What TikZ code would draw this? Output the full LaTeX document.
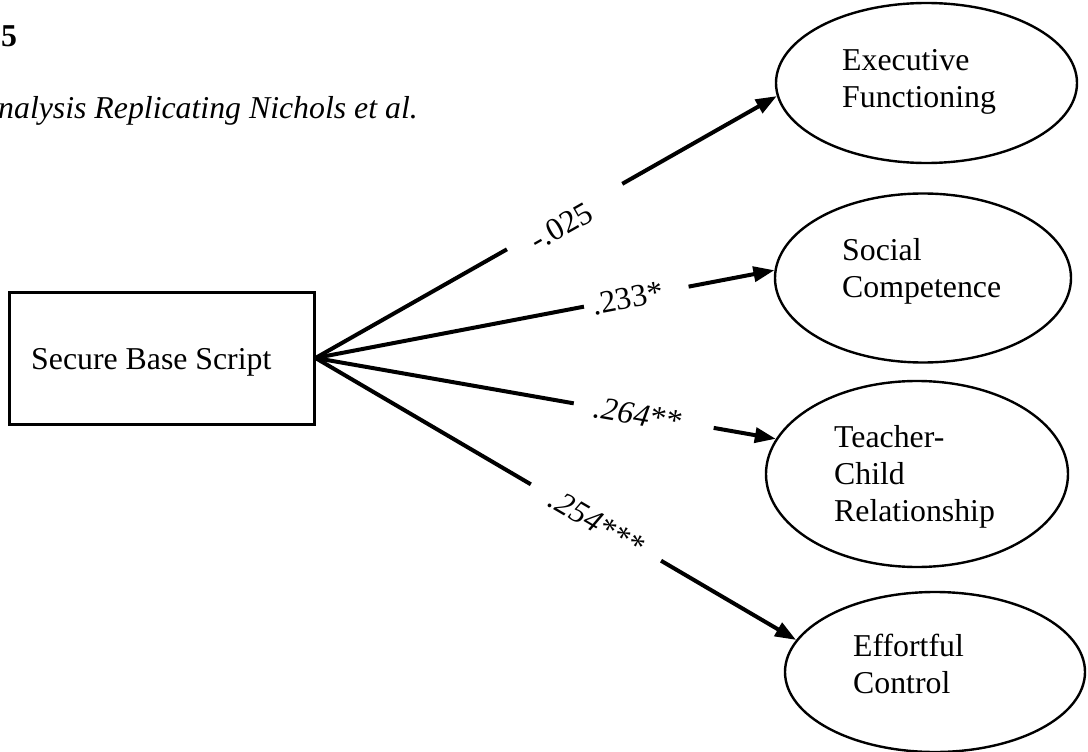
\documentclass[tikz,border=0pt]{standalone}
\usepackage{fontspec}
\setmainfont{Liberation Serif}
\usetikzlibrary{arrows.meta,shapes.geometric,calc}
\begin{document}
\begin{tikzpicture}[x=1pt,y=-1pt,
  every node/.style={font=\fontsize{31.8}{36.6}\selectfont, inner sep=0pt},
  latent/.style={draw, ellipse, line width=2.4pt, inner sep=0pt},
  observed/.style={draw, rectangle, line width=3pt, inner sep=0pt},
  label/.style={align=left, anchor=base west},
  seg/.style={line width=4pt, black},
  arr/.style={seg, -{Triangle[length=21pt,width=15pt]}},
  coef/.style={sloped, inner sep=1pt}
]
\useasboundingbox (0,0) rectangle (1088,752);
\clip (0,0) rectangle (1088,752);

% titles
\node[anchor=base west, font=\bfseries\fontsize{31.8}{36.6}\selectfont] (fignum) at (1,47) {5};
\node[anchor=base west, font=\itshape\fontsize{31.8}{36.6}\selectfont] (subtitle) at (-2,118) {nalysis Replicating Nichols et al.};

% box
\node[observed, minimum width=305pt, minimum height=132pt] (sbs) at (161.5,358) {};
\node[anchor=base west] (sbstext) at (31,369) {Secure Base Script};

% ellipses
\node[latent, minimum width=301pt, minimum height=160pt] (ef) at (926.5,83) {};
\node[latent, minimum width=296pt, minimum height=169pt] (sc) at (923,278) {};
\node[latent, minimum width=302pt, minimum height=186pt] (tc) at (917,474) {};
\node[latent, minimum width=300pt, minimum height=160pt] (ec) at (935,672) {};

% base anchor = baseline of the last line
\node[label] (eftext) at (842,107) {Executive\\Functioning};
\node[label] (sctext) at (842,297) {Social\\Competence};
\node[label] (tctext) at (834,521) {Teacher-\\Child\\Relationship};
\node[label] (ectext) at (853,693) {Effortful\\Control};

% connectors
\coordinate (src) at (sbs.east);
\coordinate (efin) at (ef.185);
\coordinate (scin) at (sc.177);
\coordinate (tcin) at (tc.166);
\coordinate (ecin) at (ec.167);

\draw[seg] (src) -- ($(src)!0.415!(efin)$);
\draw[arr] ($(src)!0.665!(efin)$) -- (efin);
\path (src) -- node[coef, pos=0.525, below=-5pt] (c1) {-.025} (efin);

\draw[seg] (src) -- ($(src)!0.585!(scin)$);
\draw[arr] ($(src)!0.813!(scin)$) -- (scin);
\path (src) -- node[coef, pos=0.68] (c2) {.233*} (scin);

\draw[seg] (src) -- ($(src)!0.561!(tcin)$);
\draw[arr] ($(src)!0.865!(tcin)$) -- (tcin);
\path (src) -- node[coef, pos=0.70] (c3) {\itshape .264**} (tcin);

\draw[seg] (src) -- ($(src)!0.448!(ecin)$);
\draw[arr] ($(src)!0.719!(ecin)$) -- (ecin);
\path (src) -- node[coef, pos=0.585] (c4) {\itshape .254***} (ecin);
\end{tikzpicture}
\end{document}
